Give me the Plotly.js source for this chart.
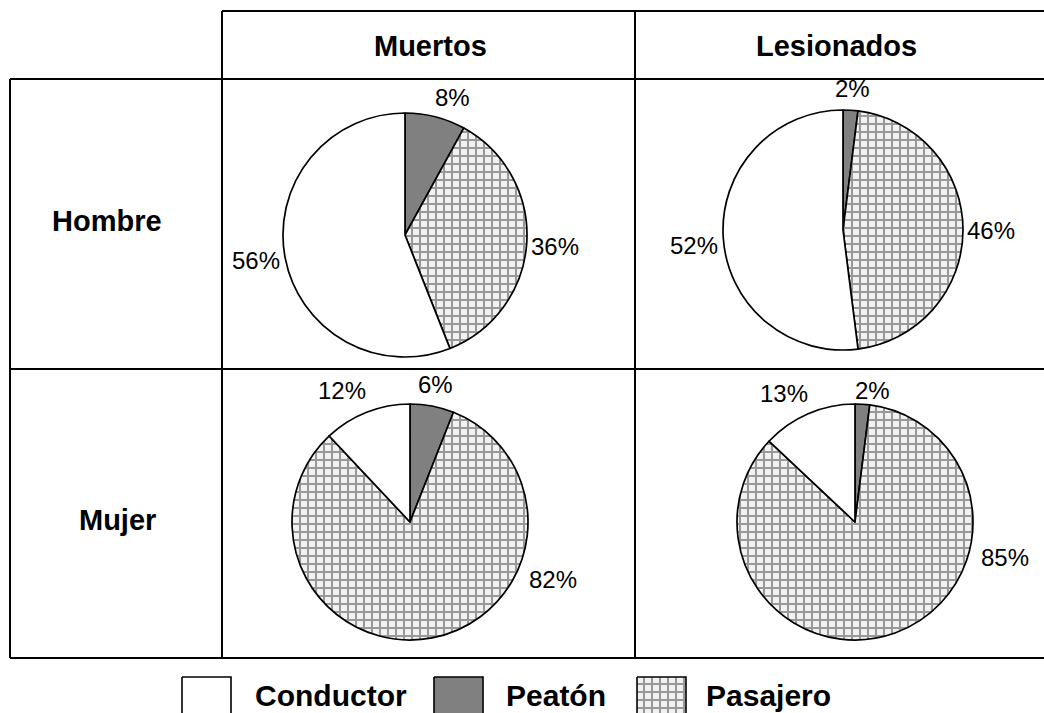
<!DOCTYPE html>
<html>
<head>
<meta charset="utf-8">
<script src="https://cdn.plot.ly/plotly-3.0.1.min.js"></script>
<style>html,body{margin:0;padding:0;background:#fff;}#chart{width:1044px;height:713px;}</style>
</head>
<body>
<div id="chart"></div>
<script>
// ---- Data ----
const categories = ['Conductor', 'Peatón', 'Pasajero'];
const rowLabels = ['Hombre', 'Mujer'];
const colLabels = ['Muertos', 'Lesionados'];
const hombreMuertos = [56, 8, 36];
const hombreLesionados = [52, 2, 46];
const mujerMuertos = [12, 6, 82];
const mujerLesionados = [13, 2, 85];

// ---- Layout helpers ----
const W = 1044, H = 713;
const px = x => x / W;
const py = y => 1 - y / H;
const FONT = 'Arial, "Liberation Sans", sans-serif';

// slice drawing order clockwise from 12 o'clock: Peatón, Pasajero, Conductor
const order = [1, 2, 0];
const sliceColors = {Conductor: '#ffffff', 'Peatón': '#808080', Pasajero: '#f2f2f2'};
const sliceShapes = {Conductor: '', 'Peatón': '', Pasajero: '+'};
const PAT_FG = '#999999', PAT_SIZE = 8, PAT_SOL = 0.45;

function pie(values, cx, cy, r) {
  const labs = order.map(i => categories[i]);
  return {
    type: 'pie',
    labels: labs,
    values: order.map(i => values[i]),
    sort: false,
    direction: 'clockwise',
    rotation: 0,
    domain: {x: [px(cx - r), px(cx + r)], y: [py(cy + r), py(cy - r)]},
    marker: {
      colors: labs.map(l => sliceColors[l]),
      line: {color: '#000', width: 1.7},
      pattern: {shape: labs.map(l => sliceShapes[l]), fgcolor: PAT_FG, bgcolor: labs.map(l => sliceColors[l]), size: PAT_SIZE, solidity: PAT_SOL}
    },
    textinfo: 'none',
    hoverinfo: 'none',
    showlegend: false
  };
}

const traces = [
  pie(hombreMuertos, 405, 235, 122),
  pie(hombreLesionados, 843, 230, 120),
  pie(mujerMuertos, 410, 522, 118),
  pie(mujerLesionados, 855, 522, 118)
];

// legend boxes (drawn on a hidden pixel-sized axis so a pattern can be used)
const legendBoxes = [[182, 231], [434, 483], [637, 686]];
const legendTextX = [253, 504, 704];
categories.forEach((c, i) => {
  const [x0, x1] = legendBoxes[i];
  traces.push({
    type: 'scatter', mode: 'lines',
    x: [x0, x1, x1, x0, x0], y: [677, 677, 718, 718, 677],
    fill: 'toself',
    fillcolor: sliceColors[c],
    fillpattern: sliceShapes[c] ? {shape: sliceShapes[c], fgcolor: PAT_FG, bgcolor: sliceColors[c], size: PAT_SIZE, solidity: PAT_SOL} : undefined,
    line: {color: '#000', width: 1.6},
    hoverinfo: 'none', showlegend: false
  });
});

const ln = (x0, y0, x1, y1) => ({type: 'line', xref: 'paper', yref: 'paper', x0: px(x0), y0: py(y0), x1: px(x1), y1: py(y1), line: {color: '#000', width: 2}});
const shapes = [
  ln(222, 11, 1044, 11),
  ln(10, 79, 1044, 79),
  ln(10, 369, 1044, 369),
  ln(10, 658, 1044, 658),
  ln(10, 79, 10, 658),
  ln(222, 11, 222, 658),
  ln(635, 11, 635, 658)
];

const ann = (text, x, y, size, xanchor) => ({
  text: text, xref: 'paper', yref: 'paper', x: px(x), y: py(y), xanchor: xanchor || 'center', yanchor: 'middle',
  showarrow: false, font: {family: FONT, size: size, color: '#000'}
});
const annotations = [
  ann('<b>' + colLabels[0] + '</b>', 430, 46, 29),
  ann('<b>' + colLabels[1] + '</b>', 836, 46, 29),
  ann('<b>' + rowLabels[0] + '</b>', 107, 221, 29),
  ann('<b>' + rowLabels[1] + '</b>', 117, 520, 29)
];
categories.forEach((c, i) => annotations.push(ann('<b>' + c + '</b>', legendTextX[i], 695, 30, 'left')));

// percentage label positions (Conductor, Peatón, Pasajero) for each pie, as placed in the original
const labelPos = [
  [[256, 260], [452, 97], [555, 247]],
  [[694, 245], [852, 88], [991, 231]],
  [[342, 390], [435, 384], [553, 579]],
  [[784, 393], [872, 390], [1005, 557]]
];
[hombreMuertos, hombreLesionados, mujerMuertos, mujerLesionados].forEach((vals, p) => {
  vals.forEach((v, i) => {
    annotations.push(ann(v + '%', labelPos[p][i][0], labelPos[p][i][1], 24));
  });
});

const layout = {
  width: W, height: H,
  margin: {l: 0, r: 0, t: 0, b: 0},
  paper_bgcolor: '#fff', plot_bgcolor: 'rgba(0,0,0,0)',
  xaxis: {range: [0, W], visible: false, fixedrange: true, domain: [0, 1]},
  yaxis: {range: [H, 0], visible: false, fixedrange: true, domain: [0, 1]},
  shapes: shapes,
  annotations: annotations,
  showlegend: false
};

Plotly.newPlot('chart', traces, layout, {staticPlot: true, displayModeBar: false});
</script>
</body>
</html>
